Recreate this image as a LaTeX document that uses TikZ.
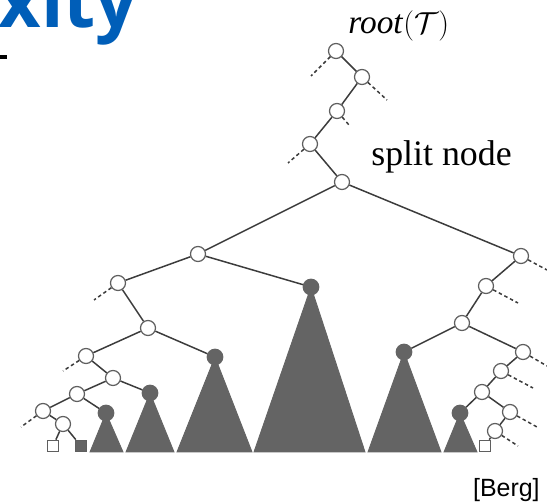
\documentclass[tikz,border=0pt]{standalone}
\usepackage{fontspec}
\setmainfont{Liberation Serif}
\newfontfamily\headfont{Open Sans}
\newfontfamily\citefont{Liberation Sans}
\usetikzlibrary{positioning,backgrounds}
\definecolor{titleblue}{RGB}{0,94,184}
\definecolor{subgray}{RGB}{100,100,100}
\definecolor{nodegray}{RGB}{95,95,95}
\definecolor{edgegray}{RGB}{60,60,60}

\begin{document}
\begin{tikzpicture}[x=0.02cm, y=-0.02cm,
  inner/.style={circle, draw=nodegray, fill=white, line width=0.7pt, minimum size=0.3cm, inner sep=0pt},
  leaf/.style={circle, draw=subgray, fill=subgray, line width=0.7pt, minimum size=0.31cm, inner sep=0pt},
  sq/.style={rectangle, draw=nodegray, fill=white, line width=0.7pt, minimum size=0.23cm, inner sep=0pt},
  edge/.style={draw=edgegray, line width=0.85pt},
  stub/.style={edge, dash pattern=on 2pt off 1.6pt},
  sub/.style={fill=subgray, draw=subgray, line width=0.5pt},
  lbl/.style={inner sep=0pt, anchor=base west}
]
\useasboundingbox (0,0) rectangle (547,502);

% slide leftovers
\node[lbl, font=\headfont\bfseries\fontsize{42pt}{42pt}\selectfont, text=titleblue] (title) at (-2,28) {xity};
\fill (0,55) rectangle (7,59);

% search path from the root down to the split node
\node[inner] (r1) at (336,51) {};
\node[inner] (r2) at (362,77) {};
\node[inner] (r3) at (337,111) {};
\node[inner] (r4) at (310,144) {};
\node[inner] (split) at (342,182) {};

% left path
\node[inner] (L1) at (198,254) {};
\node[inner] (L2) at (118,283) {};
\node[inner] (L3) at (148,328) {};
\node[inner] (L4) at (86,356) {};
\node[inner] (L5) at (113,378) {};
\node[inner] (L6) at (77,394) {};
\node[inner] (L7) at (43,411) {};
\node[inner] (L8) at (63,424) {};
\node[sq] (sqw1) at (53,446) {};
\node[sq, fill=subgray] (sqd) at (81,446) {};

% right path
\node[inner] (R1) at (521,256) {};
\node[inner] (R2) at (486,286) {};
\node[inner] (R3) at (462,323) {};
\node[inner] (R4) at (523,352) {};
\node[inner] (R5) at (501,371) {};
\node[inner] (R6) at (482,392) {};
\node[inner] (R7) at (510,412) {};
\node[inner] (R8) at (495,431) {};
\node[sq] (sqw2) at (485,446) {};

% roots of the selected subtrees
\node[leaf] (d1) at (106,413) {};
\node[leaf] (d2) at (150,393) {};
\node[leaf] (d3) at (215,357) {};
\node[leaf] (d4) at (311,287) {};
\node[leaf] (d5) at (404,352) {};
\node[leaf] (d6) at (460,413) {};

\begin{pgfonlayer}{background}
\filldraw[sub] (d1.center) -- (90,452) -- (123,452) -- cycle;
\filldraw[sub] (d2.center) -- (126,452) -- (174,452) -- cycle;
\filldraw[sub] (d3.center) -- (177,452) -- (252,452) -- cycle;
\filldraw[sub] (d4.center) -- (254,452) -- (365,452) -- cycle;
\filldraw[sub] (d5.center) -- (368,452) -- (441,452) -- cycle;
\filldraw[sub] (d6.center) -- (444,452) -- (477,452) -- cycle;
\end{pgfonlayer}

\draw[edge] (r1) -- (r2);
\draw[edge] (r2) -- (r3);
\draw[edge] (r3) -- (r4);
\draw[edge] (r4) -- (split);
\draw[edge] (split) -- (L1);
\draw[edge] (split) -- (R1);

\draw[edge] (L1) -- (L2);
\draw[edge] (L1) -- (d4);
\draw[edge] (L2) -- (L3);
\draw[edge] (L3) -- (L4);
\draw[edge] (L3) -- (d3);
\draw[edge] (L4) -- (L5);
\draw[edge] (L5) -- (L6);
\draw[edge] (L5) -- (d2);
\draw[edge] (L6) -- (L7);
\draw[edge] (L6) -- (d1);
\draw[edge] (L7) -- (L8);
\draw[edge] (L8) -- (sqw1);
\draw[edge] (L8) -- (sqd);

\draw[edge] (R1) -- (R2);
\draw[edge] (R2) -- (R3);
\draw[edge] (R3) -- (d5);
\draw[edge] (R3) -- (R4);
\draw[edge] (R4) -- (R5);
\draw[edge] (R5) -- (R6);
\draw[edge] (R6) -- (d6);
\draw[edge] (R6) -- (R7);
\draw[edge] (R7) -- (R8);
\draw[edge] (R8) -- (sqw2);

% dashed stubs to the rest of the tree
\coordinate (r1s) at (311,76);
\coordinate (r2s) at (387,100);
\coordinate (r3s) at (349,125);
\coordinate (r4s) at (288,163);
\coordinate (L2s) at (94,300);
\coordinate (L4s) at (63,371);
\coordinate (L7s) at (21,427);
\coordinate (R1s) at (547,270);
\coordinate (R2s) at (518,303);
\coordinate (R4s) at (547,366);
\coordinate (R5s) at (533,388);
\coordinate (R7s) at (537,427);
\coordinate (R8s) at (518,446);
\draw[stub] (r1) -- (r1s);
\draw[stub] (r2) -- (r2s);
\draw[stub] (r3) -- (r3s);
\draw[stub] (r4) -- (r4s);
\draw[stub] (L2) -- (L2s);
\draw[stub] (L4) -- (L4s);
\draw[stub] (L7) -- (L7s);
\draw[stub] (R1) -- (R1s);
\draw[stub] (R2) -- (R2s);
\draw[stub] (R4) -- (R4s);
\draw[stub] (R5) -- (R5s);
\draw[stub] (R7) -- (R7s);
\draw[stub] (R8) -- (R8s);

% labels
\node[lbl, font=\fontsize{19pt}{19pt}\selectfont] (rootlbl) at (348,34) {\textit{root}$(\mathcal{T})$};
\node[lbl, font=\fontsize{20.4pt}{20.4pt}\selectfont] (splitlbl) at (371,166) {split node};
\node[inner sep=0pt, anchor=base east, font=\citefont\fontsize{14.2pt}{14.2pt}\selectfont] (cite) at (540,497) {[Berg]};
\end{tikzpicture}
\end{document}
